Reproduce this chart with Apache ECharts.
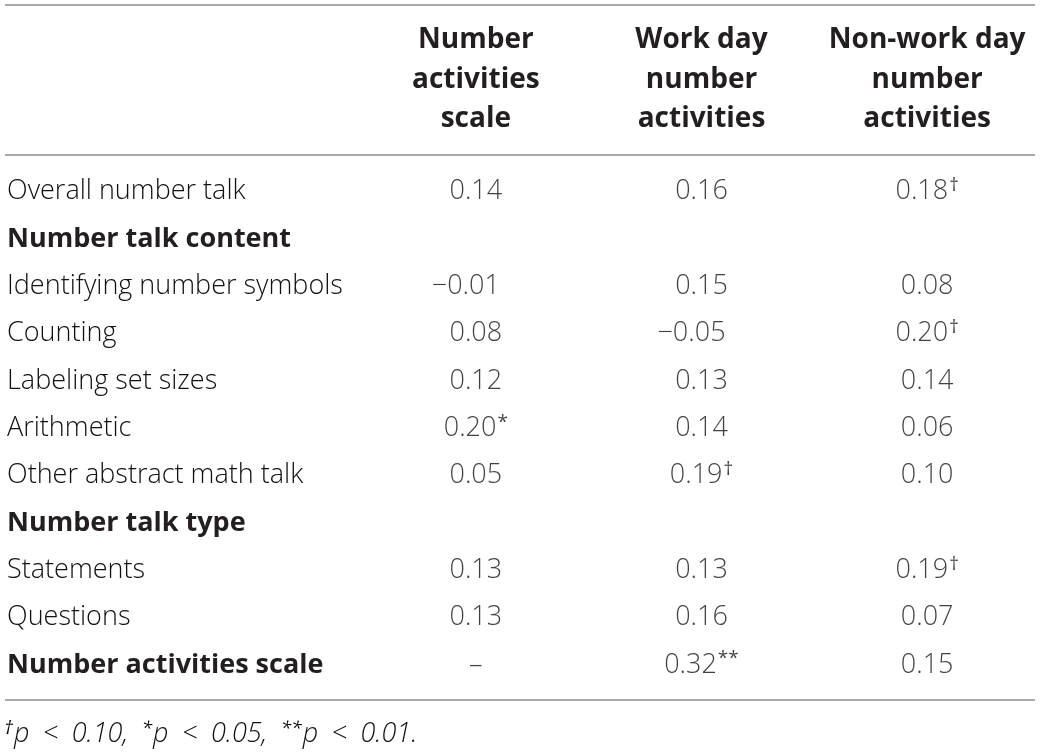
<!doctype html>
<meta charset="utf-8">
<title>Number talk correlations</title>
<style>
	html, body { margin: 0; padding: 0; background: #fff; }
	#table-chart { width: 1040px; height: 754px; }
</style>
<div id="table-chart"></div>
<script src="https://cdn.jsdelivr.net/npm/echarts@6/dist/echarts.min.js"></script>
<script>
	// table content
	const columns = ["Number\nactivities\nscale", "Work day\nnumber\nactivities", "Non-work day\nnumber\nactivities"];
	const rows = ["Overall number talk", "Number talk content", "Identifying number symbols", "Counting",
		"Labeling set sizes", "Arithmetic", "Other abstract math talk", "Number talk type",
		"Statements", "Questions", "Number activities scale"];
	const boldRows = ["Number talk content", "Number talk type", "Number activities scale"];
	// null = empty cell, "–" = same measure
	const scaleVals = [0.14, null, -0.01, 0.08, 0.12, 0.20, 0.05, null, 0.13, 0.13, "–"];
	const scaleSig = ["", "", "", "", "", "*", "", "", "", "", ""];
	const workVals = [0.16, null, 0.15, -0.05, 0.13, 0.14, 0.19, null, 0.13, 0.16, 0.32];
	const workSig = ["", "", "", "", "", "", "†", "", "", "", "**"];
	const nonWorkVals = [0.18, null, 0.08, 0.20, 0.14, 0.06, 0.10, null, 0.19, 0.07, 0.15];
	const nonWorkSig = ["†", "", "", "†", "", "", "", "", "†", "", ""];
	const footnote = "{s|†}{i|p\u2002<\u20020.10,\u2002}{s|*}{i|p\u2002<\u20020.05,\u2002}{s|**}{i|p\u2002<\u20020.01.}";

	const FONT = "'Open Sans', 'Liberation Sans', sans-serif";
	const INK = "#231f20";
	const LIGHT_INK = "#111111";
	const RULE = "#8c8c8c";

	var cells = [];
	[[scaleVals, scaleSig], [workVals, workSig], [nonWorkVals, nonWorkSig]].forEach(function (col, c) {
		col[0].forEach(function (v, r) {
			if (v === null) return;
			var txt = typeof v === "number" ? (v < 0 ? "\u2212" : "") + Math.abs(v).toFixed(2) : v;
			var item = { value: [c, r], text: "{n|" + txt + "}" + (col[1][r] ? "{s|" + col[1][r] + "}" : "") };
			if (typeof v === "number" && v < 0) item.label = { offset: [-10, 0] };
			cells.push(item);
		});
	});

	var option = {
		animation: false,
		grid: { left: 363, width: 685.5, top: 167.8, height: 520.9, containLabel: false },
		xAxis: {
			type: "category",
			position: "top",
			data: columns,
			axisLine: { show: false },
			axisTick: { show: false },
			splitLine: { show: false },
			axisLabel: {
				interval: 0,
				margin: 29,
				fontFamily: FONT,
				fontSize: 28,
				fontWeight: "bold",
				lineHeight: 39.5,
				color: INK,
				align: "center"
			}
		},
		yAxis: {
			type: "category",
			inverse: true,
			data: rows,
			axisLine: { show: false },
			axisTick: { show: false },
			splitLine: { show: false },
			axisLabel: {
				interval: 0,
				align: "left",
				margin: 356,
				formatter: function (v) {
					return boldRows.indexOf(v) >= 0 ? "{b|" + v + "}" : "{n|" + v + "}";
				},
				rich: {
					n: { fontFamily: FONT, fontSize: 27, fontWeight: 300, color: LIGHT_INK },
					b: { fontFamily: FONT, fontSize: 27, fontWeight: "bold", color: INK }
				}
			}
		},
		series: [{
			type: "scatter",
			symbolSize: 0,
			data: cells,
			label: {
				show: true,
				position: "inside",
				formatter: function (p) { return p.data.text; },
				rich: {
					n: { fontFamily: FONT, fontSize: 27, fontWeight: 300, color: LIGHT_INK },
					s: { fontFamily: FONT, fontSize: 19, fontWeight: 400, color: LIGHT_INK, padding: [0, 0, 12, 1] }
				}
			}
		}],
		graphic: [
			{ type: "line", shape: { x1: 5, y1: 5, x2: 1035, y2: 5 }, style: { stroke: RULE, lineWidth: 1.5 } },
			{ type: "line", shape: { x1: 5, y1: 155, x2: 1035, y2: 155 }, style: { stroke: RULE, lineWidth: 1.5 } },
			{ type: "line", shape: { x1: 5, y1: 700, x2: 1035, y2: 700 }, style: { stroke: RULE, lineWidth: 1.5 } },
			{
				type: "text", left: 4, top: 719,
				style: {
					text: footnote,
					rich: {
						i: { fontFamily: FONT, fontSize: 27, fontStyle: "italic", fontWeight: 300, fill: LIGHT_INK },
						s: { fontFamily: FONT, fontSize: 19, fontStyle: "italic", fontWeight: 400, fill: LIGHT_INK, padding: [0, 1, 12, 0] }
					}
				}
			}
		]
	};
	var VTable = echarts.init(document.getElementById("table-chart"));
	VTable.setOption(option);
</script>
